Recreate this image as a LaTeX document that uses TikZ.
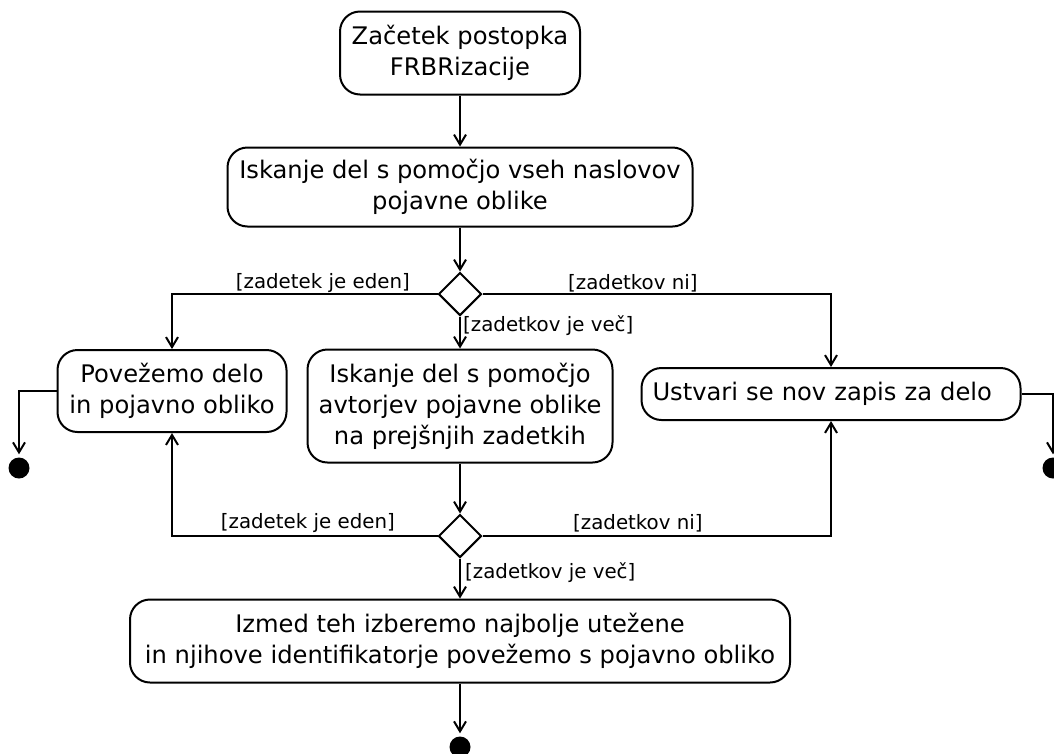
\documentclass[tikz,border=0pt]{standalone}
\usepackage{fontspec}
\setmainfont{DejaVu Sans}
\usetikzlibrary{arrows.meta,shapes.geometric}

\begin{document}
\begin{tikzpicture}[x=1pt,y=-1pt,
  act/.style={draw, line width=2pt, rounded corners=20pt, align=center,
    font=\fontsize{24.2}{31}\selectfont, inner sep=0pt},
  choice/.style={draw, line width=2pt, shape=diamond, aspect=1,
    minimum width=43pt, minimum height=43pt, inner sep=0pt},
  finish/.style={circle, fill=black, minimum size=21pt, inner sep=0pt},
  flow/.style={line width=2pt, -{Straight Barb[length=10pt,width=12pt]}},
  guard/.style={font=\fontsize{19.8}{22}\selectfont, inner sep=0pt}
]
% canvas
\fill[white] (0,0) rectangle (1054,753);
\useasboundingbox (0,0) rectangle (1054,753);

% activities
\node[act, minimum width=240pt, minimum height=83pt] (start) at (460,53)
  {Začetek postopka\\FRBRizacije};
\node[act, minimum width=465pt, minimum height=79pt] (search) at (460,187)
  {Iskanje del s pomočjo vseh naslovov\\pojavne oblike};
\node[choice] (d1) at (460,294) {};
\node[act, minimum width=229pt, minimum height=82pt] (link) at (172,391)
  {Povežemo delo\\in pojavno obliko};
\node[act, minimum width=305pt, minimum height=113pt] (authors) at (460,406)
  {Iskanje del s pomočjo\\avtorjev pojavne oblike\\na prejšnjih zadetkih};
\node[act, minimum width=379pt, minimum height=52pt, text width=357pt, align=left]
  (new) at (831,394) {Ustvari se nov zapis za delo};
\node[choice] (d2) at (460,536) {};
\node[act, minimum width=660pt, minimum height=83pt] (pick) at (460,641)
  {Izmed teh izberemo najbolje utežene\\in njihove identifikatorje povežemo s pojavno obliko};

% final states
\node[finish] (endL) at (19,468) {};
\node[finish] (endR) at (1053,468) {};
\node[finish] (endB) at (460,747) {};

% control flow
\draw[flow] (start) -- (search);
\draw[flow] (search) -- (d1);
\draw[flow] (d1.west) -| (link.north);
\draw[flow] (d1.east) -| (new.north);
\draw[flow] (d1) -- (authors);
\draw[flow] (authors) -- (d2);
\draw[flow] (d2.west) -| (link.south);
\draw[flow] (d2.east) -| (new.south);
\draw[flow] (d2) -- (pick);
\draw[flow, shorten >=3pt] (pick) -- (endB);
\draw[flow, shorten >=3pt] (link.west) -| (endL.north);
\draw[flow, shorten >=3pt] (new.east) -| (endR.north);

% guards
\node[guard, anchor=east] (g1) at (410,283) {[zadetek je eden]};
\node[guard, anchor=west] (g2) at (568,283) {[zadetkov ni]};
\node[guard, anchor=west] (g3) at (463,326) {[zadetkov je več]};
\node[guard, anchor=east] (g4) at (395,523) {[zadetek je eden]};
\node[guard, anchor=west] (g5) at (573,523) {[zadetkov ni]};
\node[guard, anchor=west] (g6) at (465,573) {[zadetkov je več]};
\end{tikzpicture}
\end{document}
